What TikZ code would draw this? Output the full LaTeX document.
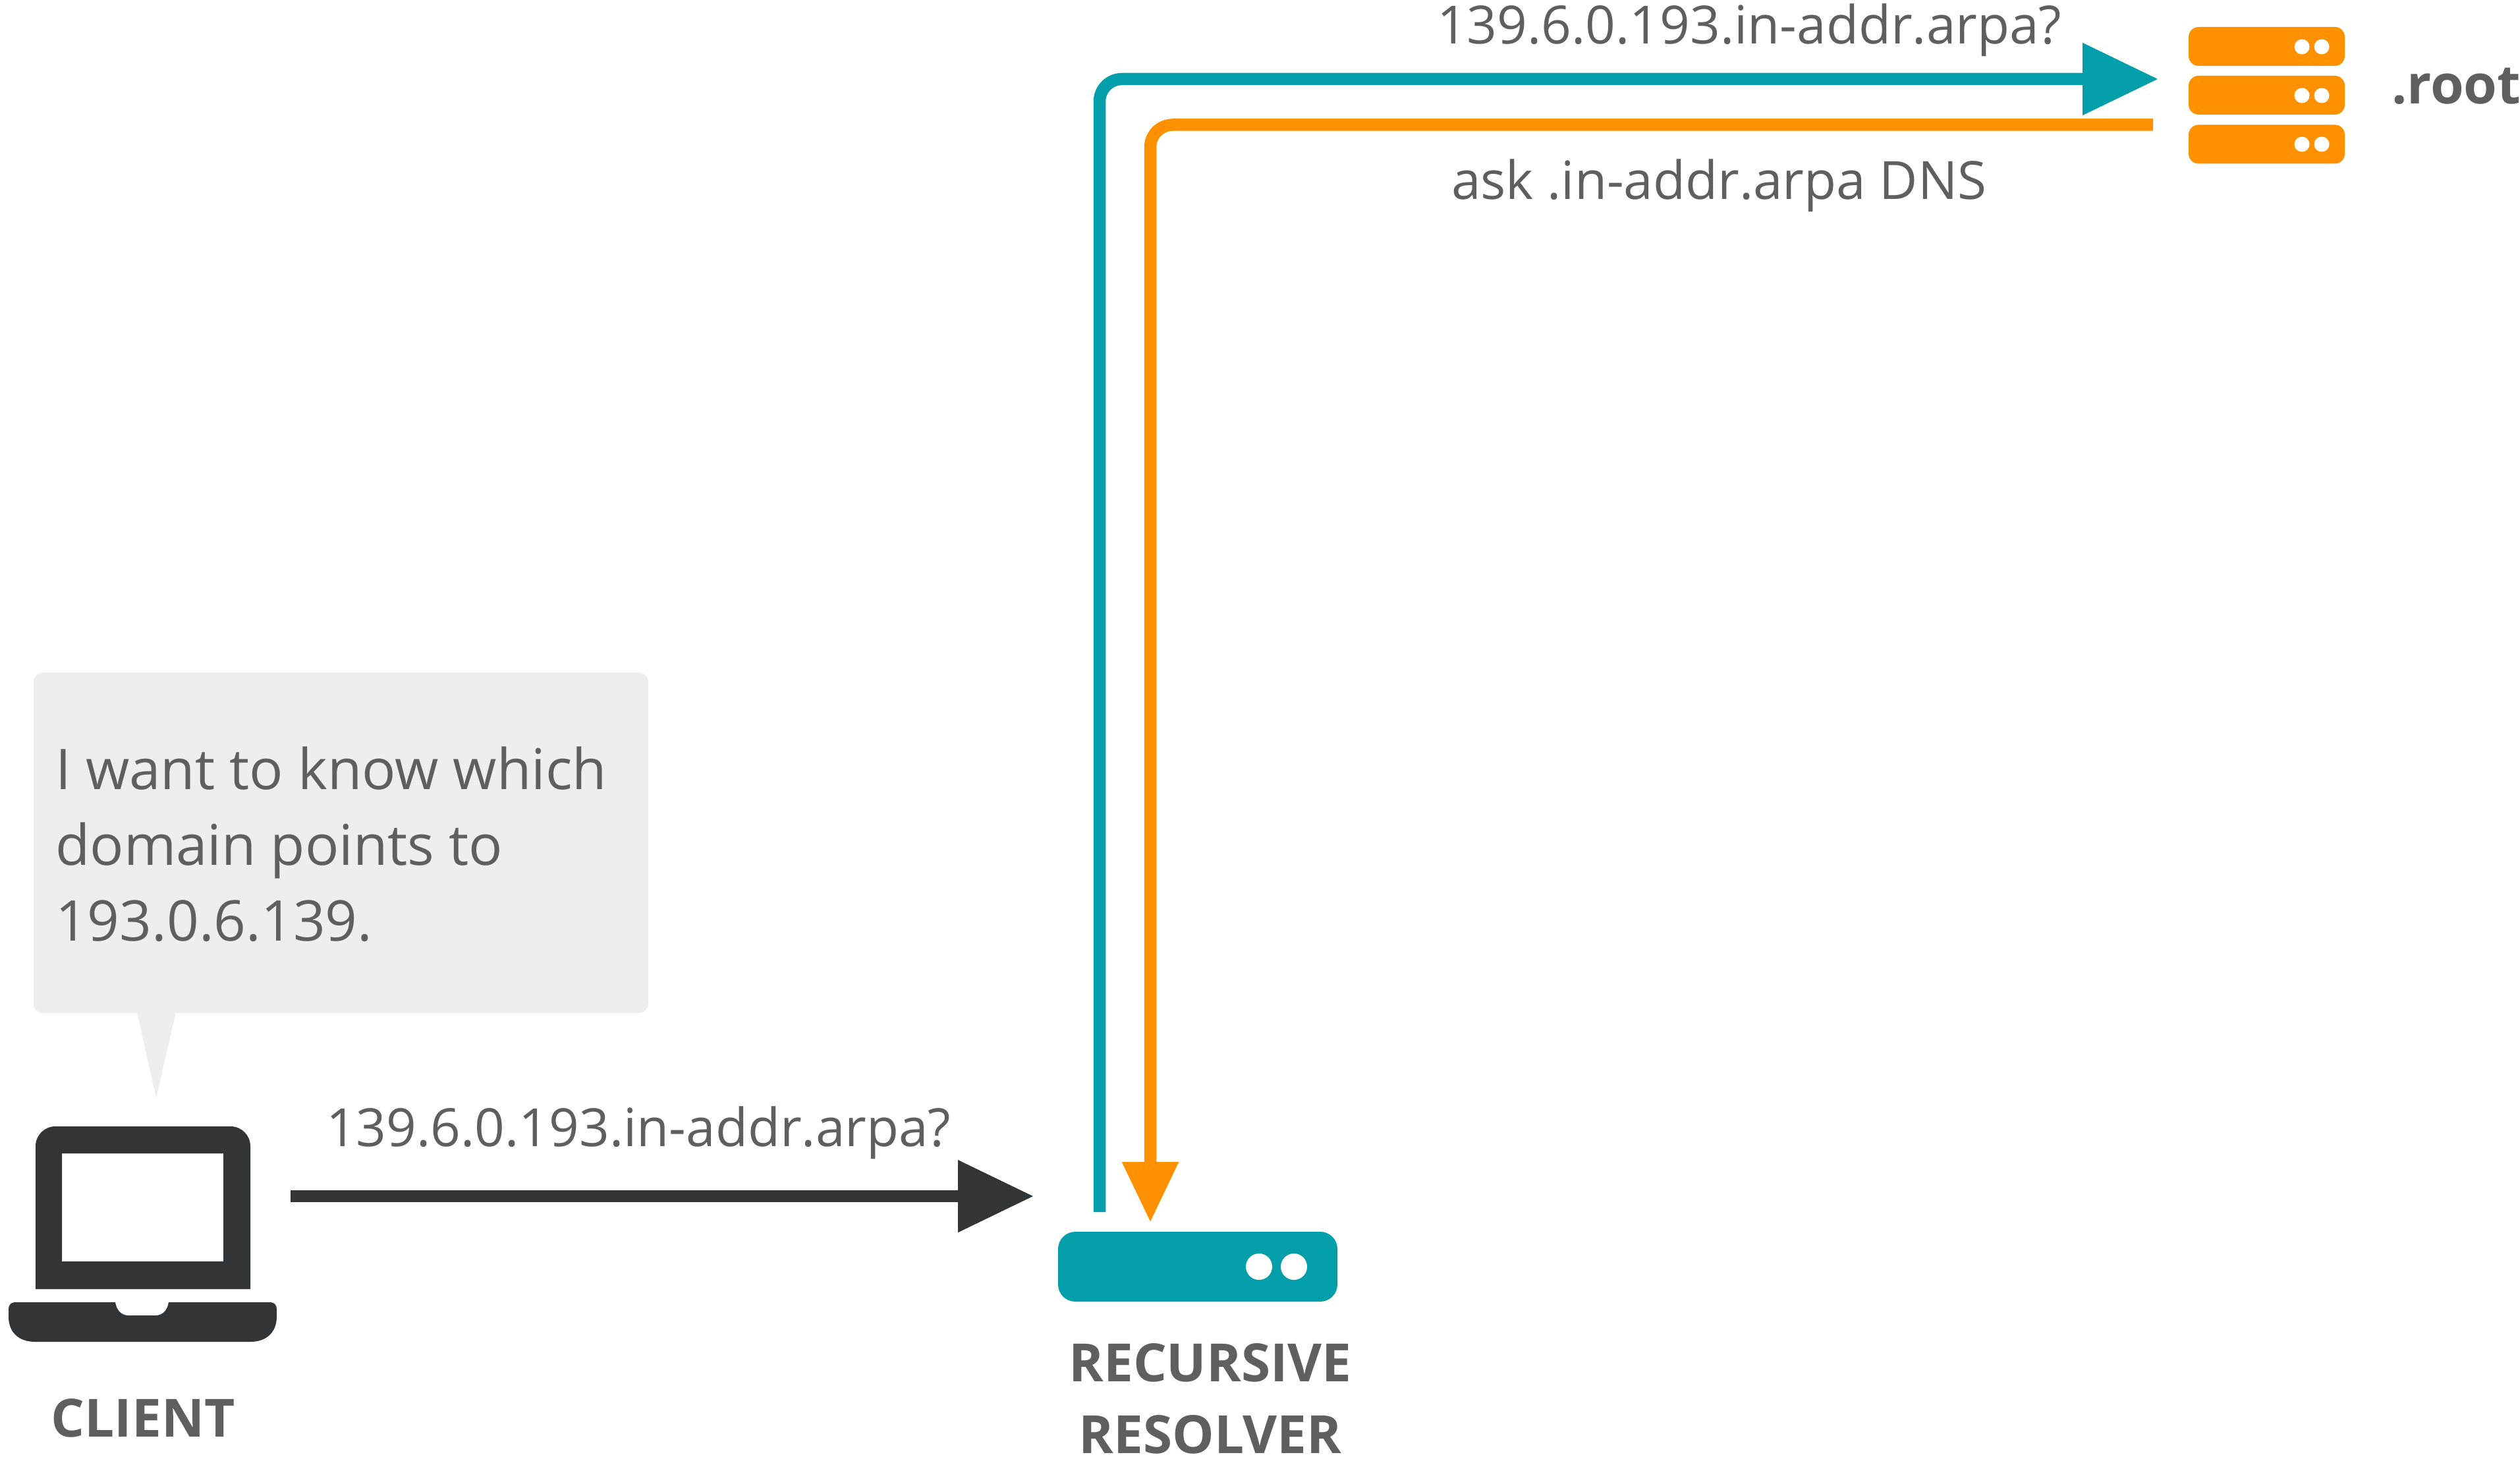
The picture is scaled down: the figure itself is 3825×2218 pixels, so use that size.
\documentclass[tikz,border=0pt]{standalone}
\usepackage{fontspec}
\usetikzlibrary{arrows.meta}
\setmainfont{Open Sans}
\definecolor{tealc}{HTML}{029FAB}
\definecolor{orangec}{HTML}{FF9100}
\definecolor{darkc}{HTML}{313538}
\definecolor{textc}{HTML}{5F5F5F}
\definecolor{bubblec}{HTML}{EEEEEE}
\tikzset{
  lbl/.style={anchor=base west,inner sep=0pt,text=textc,font=\fontsize{80}{96}\selectfont},
  boldlbl/.style={anchor=base,inner sep=0pt,text=textc,font=\bfseries\fontsize{80}{96}\selectfont},
  bubbletext/.style={anchor=base west,inner sep=0pt,text=textc,font=\fontsize{85.3}{114}\selectfont},
  serverbox/.style={fill=orangec,rounded corners=15pt,minimum width=237pt,minimum height=59pt,inner sep=0pt},
  conn/.style={line width=18.5pt,rounded corners=34pt},
}
\begin{document}
\begin{tikzpicture}[x=1pt,y=-1pt]
\useasboundingbox (0,0) rectangle (3825,2218);
% speech bubble
\fill[bubblec,rounded corners=14pt] (51,1021) rectangle (984,1538);
\fill[bubblec] (208,1537) -- (267,1537) -- (237,1667) -- cycle;
\node[bubbletext] (b1) at (84,1198) {I want to know which};
\node[bubbletext] (b2) at (84,1313) {domain points to};
\node[bubbletext] (b3) at (84,1428) {193.0.6.139.};
% laptop
\fill[darkc,even odd rule,rounded corners=30pt] (54,1957) [sharp corners] -- (54,1957) [rounded corners=30pt] -- (54,1710) -- (380,1710) [sharp corners] -- (380,1957) -- cycle
  (94,1751) -- (339,1751) -- (339,1915) -- (94,1915) -- cycle;
\fill[darkc] (23,1977) -- (175,1977) .. controls (177,1990) and (185,1997) .. (195,1997) -- (236,1997) .. controls (246,1997) and (254,1990) .. (256,1977) -- (410,1977) .. controls (416,1977) and (420,1981) .. (420,1987) -- (420,1999) .. controls (420,2022) and (405,2037) .. (380,2037) -- (53,2037) .. controls (28,2037) and (13,2022) .. (13,1999) -- (13,1987) .. controls (13,1981) and (17,1977) .. (23,1977) -- cycle;
\node[boldlbl] (clientlabel) at (217,2181) {CLIENT};
% resolver
\node[fill=tealc,rounded corners=26pt,minimum width=424pt,minimum height=106pt,inner sep=0pt] (resolver) at (1818,1923) {};
\fill[white] (1911,1923) circle (20pt);
\fill[white] (1964,1923) circle (20pt);
\node[boldlbl] (rec1) at (1837,2097) {RECURSIVE};
\node[boldlbl] (rec2) at (1837,2206) {RESOLVER};
% root servers
\node[serverbox] (s1) at (3440.5,70.5) {};
\node[serverbox] (s2) at (3440.5,144.5) {};
\node[serverbox] (s3) at (3440.5,219) {};
\foreach \yy in {71,145,219}{
  \fill[white] (3494,\yy) circle (11.5pt);
  \fill[white] (3524,\yy) circle (11.5pt);
}
\node[anchor=base west,inner sep=0pt,text=textc,font=\bfseries\fontsize{82}{96}\selectfont] (rootlabel) at (3630,158) {.root};
% connector ends
\coordinate (cstart) at (441,1816);
\coordinate (cend) at (1569,1816);
\coordinate (tstart) at (1669,1840);
\coordinate (tbend) at (1669,120);
\coordinate (tend) at (3276,120);
\coordinate (ostart) at (3268,189.5);
\coordinate (obend) at (1746,189.5);
\coordinate (oend) at (1746,1856);
\draw[conn,darkc,-{Triangle[length=115pt,width=105pt]}] (cstart) -- (cend);
\draw[conn,tealc,-{Triangle[length=115pt,width=105pt]}] (tstart) -- (tbend) -- (tend);
\draw[conn,orangec,-{Triangle[length=92pt,width=81pt]}] (ostart) -- (obend) -- (oend);
% labels
\node[lbl] (q1) at (495,1740) {139.6.0.193.in-addr.arpa?};
\node[lbl] (q2) at (2181,67) {139.6.0.193.in-addr.arpa?};
\node[lbl] (a1) at (2203,303) {ask .in-addr.arpa DNS};
\end{tikzpicture}
\end{document}
